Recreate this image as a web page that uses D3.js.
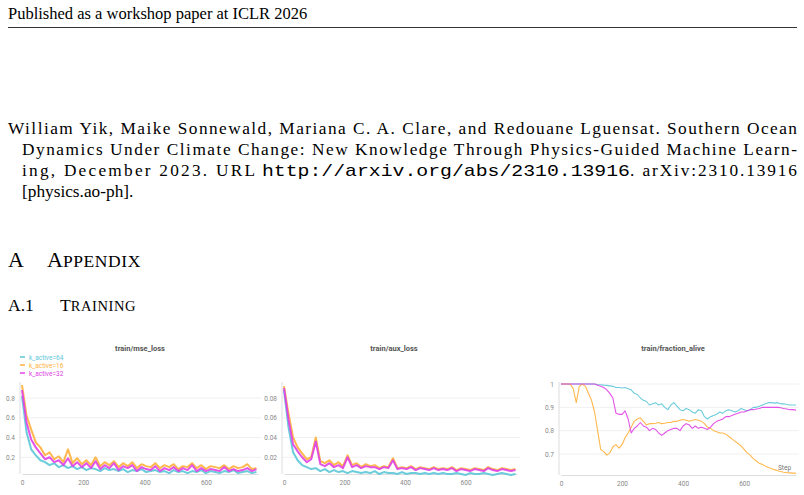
<!DOCTYPE html>
<html><head><meta charset="utf-8">
<script src="https://cdn.jsdelivr.net/npm/d3@7"></script>
<style>body{margin:0;background:#fff}</style>
</head><body>
<svg id="page" width="804" height="495"></svg>
<script>
const CYAN = "#5cc6d8", ORANGE = "#ffb03b", MAGENTA = "#e040e6";

const lossSteps = d3.range(0, 780, 15);
const mse64 = [0.82,0.45,0.28,0.22,0.17,0.15,0.12,0.14,0.10,0.12,0.09,0.11,0.08,0.10,0.07,0.09,0.08,0.06,0.09,0.07,0.08,0.06,0.08,0.05,0.07,0.06,0.08,0.05,0.06,0.07,0.05,0.06,0.04,0.07,0.05,0.06,0.04,0.06,0.05,0.07,0.04,0.06,0.05,0.04,0.06,0.05,0.07,0.04,0.05,0.06,0.04,0.05];
const mse16 = [0.93,0.62,0.48,0.35,0.30,0.22,0.25,0.18,0.21,0.15,0.28,0.14,0.19,0.13,0.17,0.12,0.20,0.11,0.15,0.12,0.16,0.10,0.14,0.11,0.15,0.09,0.13,0.11,0.10,0.14,0.09,0.12,0.10,0.13,0.08,0.11,0.10,0.14,0.09,0.12,0.08,0.11,0.10,0.09,0.12,0.08,0.11,0.09,0.10,0.13,0.08,0.09];
const mse32 = [0.88,0.55,0.38,0.30,0.24,0.18,0.20,0.15,0.17,0.12,0.19,0.11,0.15,0.10,0.14,0.09,0.16,0.08,0.12,0.09,0.14,0.07,0.11,0.09,0.12,0.06,0.10,0.08,0.07,0.11,0.06,0.09,0.07,0.10,0.06,0.09,0.07,0.12,0.06,0.09,0.06,0.08,0.07,0.06,0.10,0.06,0.08,0.06,0.07,0.09,0.06,0.08];
const aux64 = [0.088,0.050,0.025,0.017,0.012,0.010,0.008,0.009,0.006,0.008,0.005,0.007,0.005,0.006,0.004,0.006,0.005,0.004,0.005,0.004,0.006,0.003,0.005,0.004,0.004,0.003,0.005,0.003,0.004,0.004,0.003,0.004,0.003,0.004,0.003,0.004,0.003,0.003,0.004,0.003,0.002,0.004,0.003,0.003,0.004,0.003,0.002,0.003,0.004,0.003,0.002,0.003];
const aux16 = [0.092,0.064,0.040,0.030,0.024,0.018,0.020,0.040,0.016,0.014,0.017,0.012,0.015,0.011,0.022,0.012,0.014,0.010,0.013,0.011,0.012,0.009,0.011,0.010,0.019,0.009,0.010,0.009,0.011,0.008,0.010,0.009,0.008,0.010,0.008,0.009,0.008,0.010,0.007,0.009,0.008,0.007,0.009,0.008,0.007,0.010,0.008,0.007,0.009,0.008,0.007,0.008];
const aux32 = [0.090,0.058,0.033,0.026,0.020,0.015,0.018,0.036,0.013,0.011,0.014,0.010,0.012,0.009,0.020,0.010,0.012,0.009,0.011,0.010,0.010,0.008,0.010,0.009,0.017,0.008,0.009,0.008,0.010,0.007,0.009,0.008,0.007,0.009,0.007,0.008,0.007,0.009,0.006,0.008,0.007,0.006,0.008,0.007,0.006,0.009,0.007,0.006,0.008,0.007,0.006,0.007];

const fracSteps = d3.range(0, 780, 10);
const alive64 = [1,1,1,1,1,1,1,1,1,1,1,1,.998,.997,.995,.994,.992,.99,.985,.985,.983,.985,.98,.975,.96,.955,.94,.93,.925,.91,.915,.92,.91,.915,.9,.89,.91,.92,.905,.89,.885,.895,.89,.88,.875,.89,.885,.86,.85,.86,.865,.87,.88,.875,.885,.89,.885,.88,.885,.895,.89,.885,.89,.9,.9,.905,.91,.915,.92,.92,.918,.92,.915,.915,.912,.91,.91,.91];
const alive16 = [1,1,1,1,.98,.92,.99,1,.99,.96,.93,.88,.8,.72,.71,.695,.705,.73,.74,.725,.74,.77,.79,.815,.84,.85,.855,.84,.825,.83,.83,.832,.835,.83,.832,.835,.835,.84,.84,.845,.848,.845,.84,.845,.848,.845,.84,.83,.815,.81,.8,.795,.79,.79,.785,.775,.765,.755,.745,.735,.72,.705,.695,.68,.67,.66,.655,.648,.642,.637,.633,.628,.625,.622,.62,.619,.618,.617];
const alive32 = [1,1,1,1,1,1,1,1,1,1,1,1,.995,.99,.985,.975,.96,.94,.875,.87,.87,.885,.85,.79,.81,.82,.835,.82,.815,.8,.81,.805,.79,.78,.79,.8,.805,.81,.81,.8,.82,.83,.825,.81,.82,.81,.815,.81,.805,.815,.83,.84,.845,.85,.86,.86,.865,.87,.875,.88,.88,.885,.89,.89,.893,.895,.9,.9,.9,.9,.9,.9,.898,.895,.893,.89,.89,.888];

const legendNames = ["k_active=64", "k_active=16", "k_active=32"];
const legendColors = [CYAN, ORANGE, MAGENTA];
const xTicks = [0, 200, 400, 600];

const svg = d3.select("#page");
const serif = "Liberation Serif, Times New Roman, serif";
const FS = 17.3;

// page header
svg.append("text").attr("x", 8).attr("y", 19).attr("font-family", serif).attr("font-size", 16.5).text("Published as a workshop paper at ICLR 2026");
svg.append("line").attr("x1", 8).attr("x2", 797).attr("y1", 27.5).attr("y2", 27.5).attr("stroke", "#000").attr("stroke-width", 0.8);

// reference entry
const refLines = [
  { x: 8, y: 134, w: 789, t: "William Yik, Maike Sonnewald, Mariana C. A. Clare, and Redouane Lguensat.  Southern Ocean" },
  { x: 22, y: 155, w: 775, t: "Dynamics Under Climate Change: New Knowledge Through Physics-Guided Machine Learn-" }
];
refLines.forEach(l => svg.append("text").attr("x", l.x).attr("y", l.y).attr("font-family", serif).attr("font-size", FS)
  .attr("textLength", l.w).attr("lengthAdjust", "spacing").text(l.t));
const l3y = 176;
svg.append("text").attr("x", 22).attr("y", l3y).attr("font-family", serif).attr("font-size", FS)
  .attr("textLength", 233).attr("lengthAdjust", "spacing").text("ing, December 2023.  URL");
svg.append("text").attr("x", 262).attr("y", l3y).attr("font-family", "Liberation Mono, monospace").attr("font-size", 17)
  .attr("textLength", 368).attr("lengthAdjust", "spacingAndGlyphs").text("http://arxiv.org/abs/2310.13916");
svg.append("text").attr("x", 630).attr("y", l3y).attr("font-family", serif).attr("font-size", FS)
  .attr("textLength", 167).attr("lengthAdjust", "spacing").text(".  arXiv:2310.13916");
svg.append("text").attr("x", 22).attr("y", 197).attr("font-family", serif).attr("font-size", FS).text("[physics.ao-ph].");

const h1 = svg.append("text").attr("x", 8).attr("y", 267).attr("font-family", serif).attr("font-size", 22);
h1.append("tspan").text("A");
h1.append("tspan").attr("x", 47).text("A");
h1.append("tspan").attr("font-size", 17.5).attr("letter-spacing", 0.6).text("PPENDIX");
const h2 = svg.append("text").attr("x", 8).attr("y", 311).attr("font-family", serif).attr("font-size", 17.5);
h2.append("tspan").text("A.1");
h2.append("tspan").attr("x", 60).text("T");
h2.append("tspan").attr("font-size", 14.5).attr("letter-spacing", 0.6).text("RAINING");

// charts
function panel(o) {
  const g = svg.append("g");
  const x = d3.scaleLinear().domain([0, 770]).range([o.x0, o.x1]);
  const y = d3.scaleLinear().domain(o.ydom).range(o.yr);
  g.append("text").attr("x", o.tx).attr("y", 351).attr("text-anchor", "middle")
    .attr("font-family", "Roboto, sans-serif").attr("font-size", 7.5).attr("font-weight", "bold").attr("fill", "#555").text(o.title);
  o.yticks.forEach(t => {
    g.append("line").attr("x1", o.x0 - 2).attr("x2", o.x1 + 3).attr("y1", y(t)).attr("y2", y(t)).attr("stroke", "#f0f0f0");
  });
  const ya = g.append("g").attr("transform", `translate(${o.x0 - 4},0)`)
    .call(d3.axisLeft(y).tickValues(o.yticks).tickSize(0).tickFormat(o.fmt));
  ya.select(".domain").remove();
  ya.selectAll("text").attr("fill", "#888").attr("font-size", 6.5).attr("font-family", "Roboto, sans-serif");
  g.append("line").attr("x1", o.x0 - 2).attr("x2", o.x0 - 2).attr("y1", 382).attr("y2", o.bottom).attr("stroke", "#ddd");
  const xa = g.append("g").attr("transform", `translate(0,${o.bottom})`)
    .call(d3.axisBottom(x).tickValues(xTicks).tickSize(0).tickPadding(6).tickFormat(d3.format("d")));
  xa.select(".domain").attr("stroke", "#ddd");
  xa.selectAll("text").attr("fill", "#888").attr("font-size", 6.5).attr("font-family", "Roboto, sans-serif");
  o.series.forEach(s => {
    g.append("path").datum(s.v).attr("fill", "none").attr("stroke", s.c).attr("stroke-width", o.sw).attr("stroke-opacity", 0.9)
      .attr("stroke-linejoin", "round")
      .attr("d", d3.line().x((d, i) => x(o.steps[i])).y(d => y(d)));
  });
  return g;
}

panel({ title: "train/mse_loss", tx: 140, x0: 22, x1: 258, bottom: 474, ydom: [0, 0.8], yr: [477, 398],
  yticks: [0.2, 0.4, 0.6, 0.8], fmt: d3.format(".1f"), steps: lossSteps, sw: 2,
  series: [{ v: mse16, c: ORANGE }, { v: mse64, c: CYAN }, { v: mse32, c: MAGENTA }] });
panel({ title: "train/aux_loss", tx: 394, x0: 284, x1: 517, bottom: 474, ydom: [0, 0.08], yr: [477, 398],
  yticks: [0.02, 0.04, 0.06, 0.08], fmt: d3.format(".2f"), steps: lossSteps, sw: 2,
  series: [{ v: aux16, c: ORANGE }, { v: aux64, c: CYAN }, { v: aux32, c: MAGENTA }] });
panel({ title: "train/fraction_alive", tx: 673, x0: 561, x1: 796, bottom: 475, ydom: [0.7, 1], yr: [454, 384],
  yticks: [0.7, 0.8, 0.9, 1], fmt: d => d === 1 ? "1" : d3.format(".1f")(d), steps: fracSteps, sw: 1.1,
  series: [{ v: alive64, c: CYAN }, { v: alive16, c: ORANGE }, { v: alive32, c: MAGENTA }] });
svg.append("text").attr("x", 778).attr("y", 470).attr("font-family", "Roboto, sans-serif").attr("font-size", 6.5).attr("fill", "#777").text("Step");

// legend on first chart
legendNames.forEach((n, i) => {
  svg.append("line").attr("x1", 20).attr("x2", 25).attr("y1", 357 + i * 8).attr("y2", 357 + i * 8).attr("stroke", legendColors[i]).attr("stroke-width", 1.5);
  svg.append("text").attr("x", 29).attr("y", 359.5 + i * 8).attr("font-family", "Roboto, sans-serif").attr("font-size", 6.5).attr("fill", legendColors[i]).text(n);
});
</script>
</body></html>
